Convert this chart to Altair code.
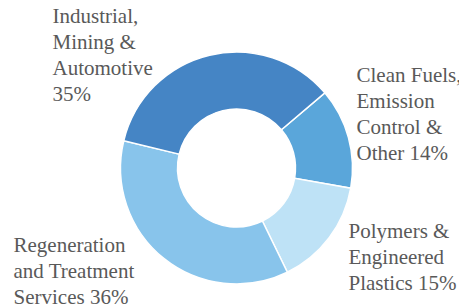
import altair as alt
import pandas as pd

# Data (clockwise from the upper-right)
categories = ["Clean Fuels", "Polymers", "Regeneration", "Industrial"]
label_lines = [
    ["Clean Fuels,", "Emission", "Control &", "Other {v}%"],
    ["Polymers &", "Engineered", "Plastics {v}%"],
    ["Regeneration", "and Treatment", "Services {v}%"],
    ["Industrial,", "Mining &", "Automotive", "{v}%"],
]
values = [14, 15, 36, 35]
colors = ["#5AA6DA", "#BEE2F6", "#88C4EB", "#4585C5"]

df = pd.DataFrame({
    "category": categories,
    "value": values,
    "idx": list(range(len(values))),
})

lines_df = pd.DataFrame([
    {"category": c, "li": i, "text": s.format(v=v)}
    for c, l, v in zip(categories, label_lines, values)
    for i, s in enumerate(l)
])

start = 0.8657  # first slice boundary, radians clockwise from 12 o'clock
theta_scale = alt.Scale(domain=[0, 100], range=[start, start + 6.283185307179586])

base = (
    alt.Chart(df)
    .transform_window(cum="sum(value)", sort=[alt.SortField("idx")], frame=[None, 0])
    .transform_calculate(begin="datum.cum - datum.value")
)

arcs = base.mark_arc(outerRadius=116, innerRadius=59, stroke="white", strokeWidth=1.5).encode(
    theta=alt.Theta("begin:Q", scale=theta_scale, stack=None),
    theta2="cum:Q",
    color=alt.Color("category:N", scale=alt.Scale(domain=categories, range=colors), legend=None),
)

# label anchor (left edge, first baseline) in plot pixels, Excel-style placement
anchors = {
    "Clean Fuels": (320, 44),
    "Polymers": (312, 200),
    "Regeneration": (-23, 214),
    "Industrial": (16, -15),
}
line_height = 26

text_layers = []
for cat, lines in zip(categories, label_lines):
    ax, ay = anchors[cat]
    for i in range(len(lines)):
        text_layers.append(
            alt.Chart(lines_df)
            .transform_filter((alt.datum.category == cat) & (alt.datum.li == i))
            .mark_text(align="left", baseline="alphabetic", font="Liberation Serif",
                       fontSize=21, color="#595959")
            .encode(x=alt.value(ax), y=alt.value(ay + i * line_height), text="text:N")
        )

chart = (
    alt.layer(arcs, *text_layers)
    .properties(
        width=400, height=260,
        autosize=alt.AutoSizeParams(type="none"),
        padding={"left": 28.5, "top": 30, "right": 22.5, "bottom": 8},
    )
    .configure_view(stroke=None)
)

chart.save("out.html", embed_options={"renderer": "svg", "actions": False})
